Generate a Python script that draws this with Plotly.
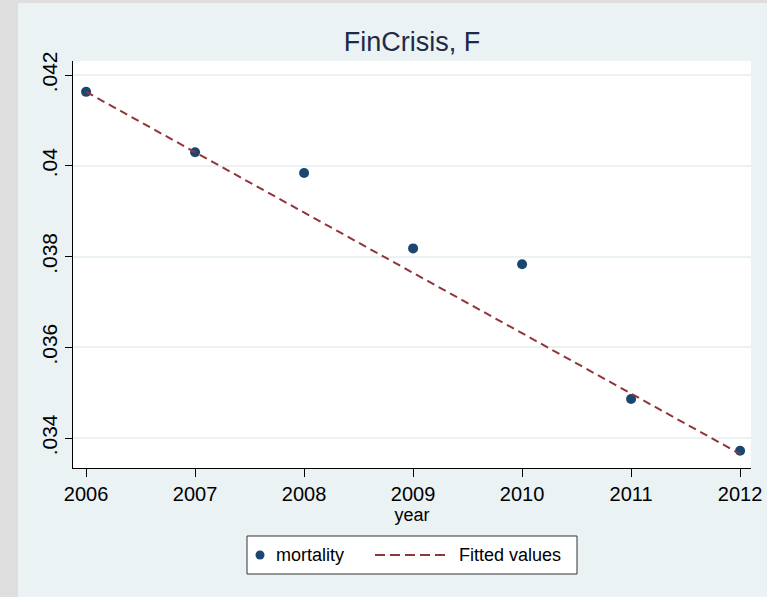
import plotly.graph_objects as go

years = [2006, 2007, 2008, 2009, 2010, 2011, 2012]
mortality = [0.04163, 0.04030, 0.03984, 0.03818, 0.03783, 0.03486, 0.03372]
fitted = [0.04163, 0.04030, 0.03897, 0.03764, 0.03631, 0.03498, 0.03365]
y_tick_vals = [0.034, 0.036, 0.038, 0.040, 0.042]
y_tick_text = [".034", ".036", ".038", ".04", ".042"]
x_tick_vals = years
x_tick_text = [str(y) for y in years]
legend_labels = ["mortality", "Fitted values"]

W, H = 767, 597
ML, MR, MT, MB = 73, 16, 61, 129
pw = W - ML - MR
ph = H - MT - MB


def px(x):
    return (x - ML) / pw


def py(y):
    return (H - MB - y) / ph


font = "Liberation Sans, Arial, sans-serif"
navy = "#1a476f"
maroon = "#90353b"
bluish = "#eaf2f3"
gray = "#dedede"

fig = go.Figure()
fig.add_trace(go.Scatter(
    x=years, y=mortality, mode="markers", name=legend_labels[0],
    marker=dict(color=navy, size=10, symbol="circle"), showlegend=False,
))
fig.add_trace(go.Scatter(
    x=years, y=fitted, mode="lines", name=legend_labels[1],
    line=dict(color=maroon, width=2, dash="8px,5px"), showlegend=False,
))

shapes = []
# outer gray strips (left and top)
shapes.append(dict(type="rect", xref="paper", yref="paper",
                   x0=px(0), x1=px(18), y0=py(H), y1=py(0),
                   fillcolor=gray, line=dict(width=0), layer="below"))
shapes.append(dict(type="rect", xref="paper", yref="paper",
                   x0=px(0), x1=px(W), y0=py(3), y1=py(0),
                   fillcolor=gray, line=dict(width=0), layer="below"))
# legend box
shapes.append(dict(type="rect", xref="paper", yref="paper",
                   x0=px(247), x1=px(577), y0=py(574), y1=py(536),
                   fillcolor="white", line=dict(color="#333333", width=1), layer="above"))
# legend marker
shapes.append(dict(type="circle", xref="paper", yref="paper",
                   x0=px(255.5), x1=px(264.5), y0=py(559.5), y1=py(550.5),
                   fillcolor=navy, line=dict(color=navy, width=0), layer="above"))
# legend dashed line
shapes.append(dict(type="line", xref="paper", yref="paper",
                   x0=px(375), x1=px(448), y0=py(555), y1=py(555),
                   line=dict(color=maroon, width=2, dash="10px,5px"), layer="above"))

annotations = [
    dict(text=legend_labels[0], xref="paper", yref="paper", x=px(274), y=py(555),
         xanchor="left", yanchor="middle", showarrow=False,
         font=dict(family=font, size=18, color="black")),
    dict(text=legend_labels[1], xref="paper", yref="paper", x=px(457), y=py(555),
         xanchor="left", yanchor="middle", showarrow=False,
         font=dict(family=font, size=18, color="black")),
]

fig.update_layout(
    width=W, height=H,
    margin=dict(l=ML, r=MR, t=MT, b=MB, pad=0, autoexpand=False),
    paper_bgcolor=bluish,
    plot_bgcolor="white",
    font=dict(family=font, size=18, color="black"),
    title=dict(text="FinCrisis, F", x=(ML + pw / 2) / W, xanchor="center",
               y=1 - 42 / H, yanchor="middle",
               font=dict(family=font, size=27, color="#1e2a4a")),
    showlegend=False,
    shapes=shapes,
    annotations=annotations,
    xaxis=dict(range=[2005.88, 2012.10], tickvals=x_tick_vals, ticktext=x_tick_text,
               showgrid=False, zeroline=False, showline=True, linecolor="black", linewidth=1,
               ticks="outside", ticklen=8, tickcolor="black", tickwidth=1, automargin=False,
               tickfont=dict(family=font, size=20, color="black"),
               title=dict(text="year", font=dict(family=font, size=18, color="black"), standoff=0)),
    yaxis=dict(range=[0.03334, 0.04231], tickvals=y_tick_vals, ticktext=y_tick_text,
               showgrid=True, gridcolor=bluish, gridwidth=2, zeroline=False,
               showline=True, linecolor="black", linewidth=1, automargin=False,
               ticks="outside", ticklen=7, tickcolor="black", tickwidth=1,
               tickangle=-90, tickfont=dict(family=font, size=21, color="black")),
)

fig.write_html("out.html", config={"displayModeBar": False},
               post_script="document.body.style.margin='0px';")
